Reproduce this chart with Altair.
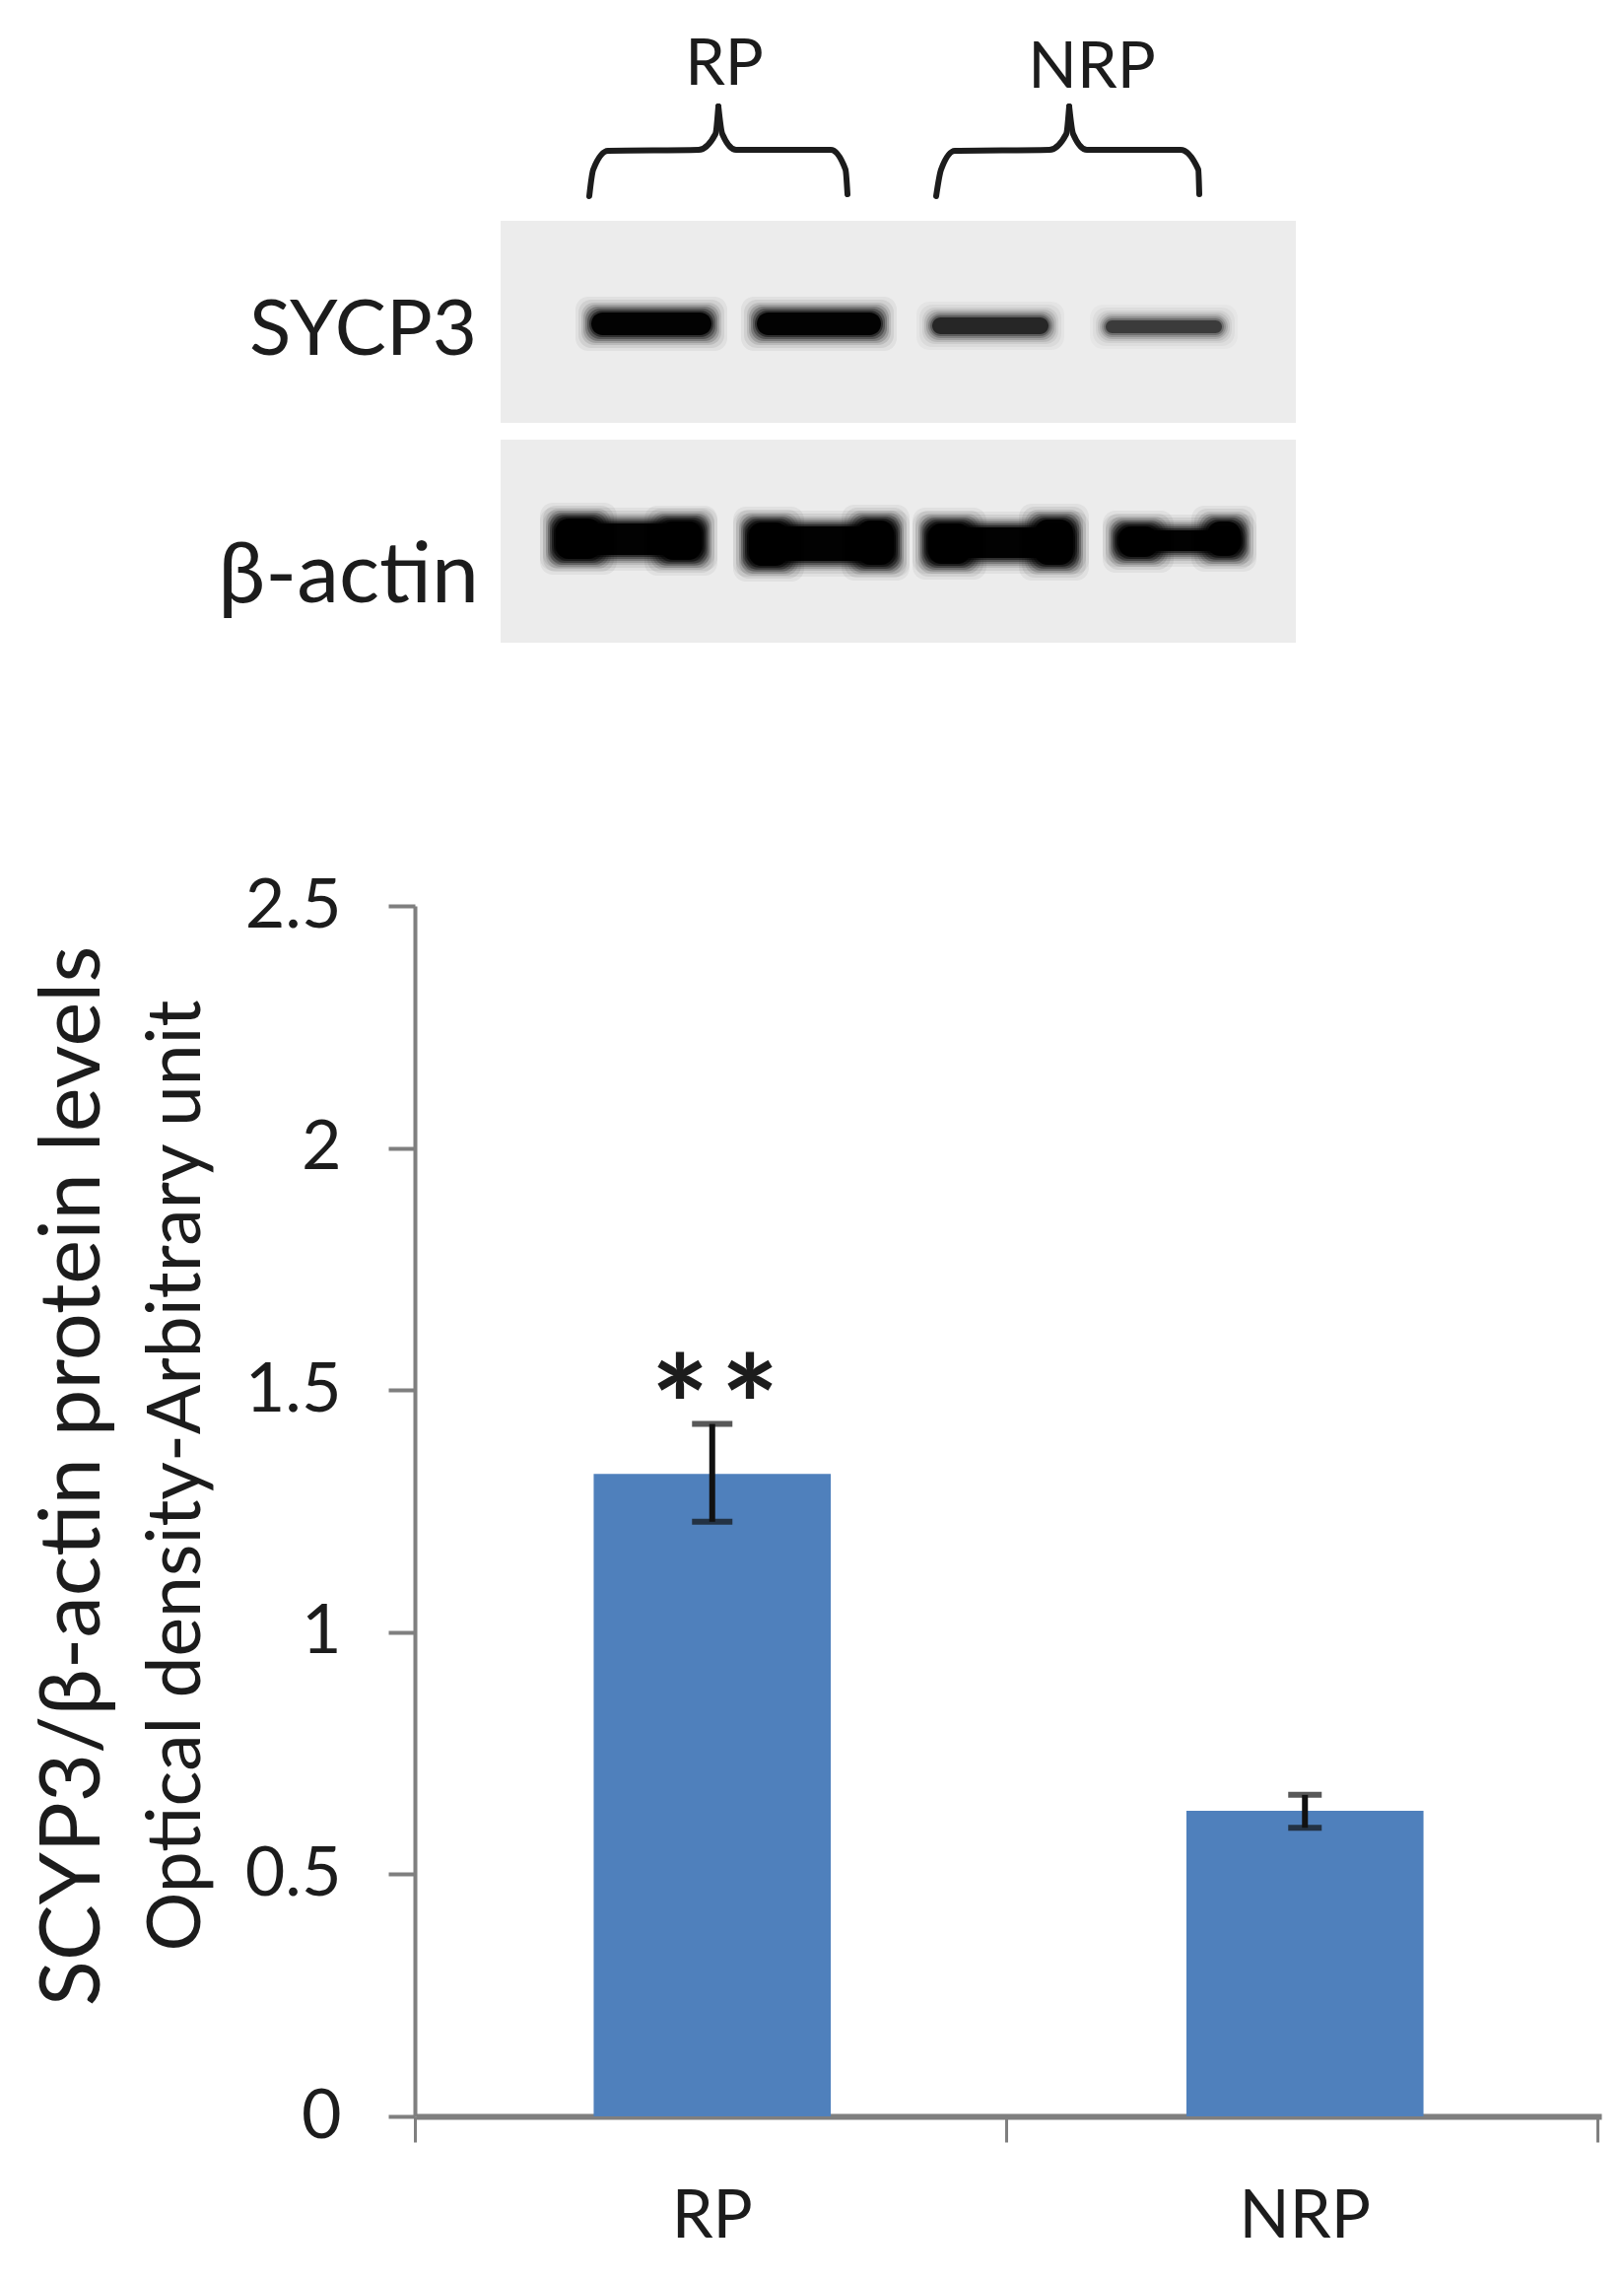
import altair as alt
import pandas as pd

# ---- bar chart values
groups = ["RP", "NRP"]
means = [1.327, 0.631]
err_low = [1.228, 0.596]
err_high = [1.43, 0.664]
cap_width = [41, 34]
y_ticks = [0, 0.5, 1, 1.5, 2, 2.5]
x_boundaries = [0, 1, 2]

# ---- blot values (page pixels of the gel picture)
panel_x0 = [508, 508]
panel_x1 = [1315, 1315]
panel_y0 = [224, 446]
panel_y1 = [429, 652]
band_x0 = [600, 768, 946, 1122, 564, 760, 942, 1135, 564, 670, 760, 870, 942, 1050, 1135, 1225]
band_x1 = [722, 894, 1064, 1240, 712, 907, 1089, 1259, 610, 712, 800, 907, 985, 1089, 1175, 1259]
band_y0 = [317, 317, 322, 325, 531, 534, 535, 538, 526, 529, 530, 528, 531, 527, 534, 529]
band_y1 = [340, 340, 339, 338, 563, 569, 566, 559, 567, 568, 574, 573, 572, 573, 565, 564]
band_strength = [1.0, 1.0, 0.62, 0.5, 1.0, 1.0, 1.0, 1.0, 1.0, 1.0, 1.0, 1.0, 1.0, 1.0, 1.0, 1.0]
halo_grow = [16, 13, 10, 8, 6, 4, 2, 0]
halo_alpha = [0.05, 0.07, 0.1, 0.15, 0.22, 0.3, 0.45, 0.95]

brace_x = [[598, 602, 617, 709, 726, 729], [729, 733, 747, 843, 858, 860],
           [950, 955, 969, 1065, 1082, 1085], [1085, 1089, 1103, 1198, 1216, 1217]]
brace_y = [[199, 172, 153, 152, 136, 108], [108, 136, 152, 152, 172, 197],
           [199, 172, 153, 152, 136, 108], [108, 136, 152, 152, 172, 197]]

# ---- text
lane_labels = ["RP", "NRP"]
lane_label_x = [735, 1108]
lane_label_y = [66, 69]
blot_label_a = ["SYCP3"]
blot_label_b = ["β-actin"]
blot_label_a_x = [484]
blot_label_b_x = [486]
blot_label_a_y = [337]
blot_label_b_y = [585]
y_title = "SCYP3/β-actin protein levels"
y_subtitle = "Optical density-Arbitrary unit"
subtitle_x = [180]
subtitle_y = [1497]
star_text = ["*", "*"]
star_x = [690, 761]
star_y = [1436, 1436]

FONT = "Lato"
INK = "#1c1c1c"
AXIS = "#7f7f7f"
PANEL = "#ececec"
BAR = "#4f80bc"

px_x = alt.Scale(domain=[8, 1640], range=[0, 1632], zero=False, nice=False)
px_y = alt.Scale(domain=[8, 2305], range=[0, 2297], zero=False, nice=False)
val_y = alt.Scale(domain=[0, 2.5], range=[2139, 911], zero=False, nice=False)
cat_x = alt.Scale(domain=groups, range=[414, 1617], paddingInner=0.6, paddingOuter=0.3)
edge_x = alt.Scale(domain=[0, 2], range=[413, 1613], zero=False, nice=False)


def X(f):
    return alt.X(f, type="quantitative", scale=px_x, axis=None)


def Y(f):
    return alt.Y(f, type="quantitative", scale=px_y, axis=None)


panels = pd.DataFrame({"x0": panel_x0, "x1": panel_x1, "y0": panel_y0, "y1": panel_y1})
panel_layer = alt.Chart(panels).mark_rect(color=PANEL).encode(
    x=X("x0"), x2="x1", y=Y("y0"), y2="y1")

rows = []
for i in range(len(band_x0)):
    for k, (g, a) in enumerate(zip(halo_grow, halo_alpha)):
        rows.append({"x0": band_x0[i] - g, "x1": band_x1[i] + g,
                     "y0": band_y0[i] - g, "y1": band_y1[i] + g,
                     "a": a * band_strength[i], "order": i * 10 + k})
band_layer = alt.Chart(pd.DataFrame(rows)).mark_rect(color="#000000", cornerRadius=13).encode(
    x=X("x0"), x2="x1", y=Y("y0"), y2="y1",
    opacity=alt.Opacity("a:Q", scale=None), order="order:Q")

brace_rows = []
for b, (xs, ys) in enumerate(zip(brace_x, brace_y)):
    for k, (px, py) in enumerate(zip(xs, ys)):
        brace_rows.append({"b": b, "k": k, "x": px, "y": py})
brace_layer = alt.Chart(pd.DataFrame(brace_rows)).mark_line(
    color=INK, strokeWidth=6, interpolate="monotone", strokeCap="round").encode(
    x=X("x"), y=Y("y"), detail="b:N", order="k:Q")


def text_layer(labels, xs, ys, size, align="center", angle=0, weight="normal"):
    df = pd.DataFrame({"t": labels, "x": xs, "y": ys})
    return alt.Chart(df).mark_text(font=FONT, fontSize=size, color=INK, align=align,
                                   baseline="middle", angle=angle, fontWeight=weight).encode(
        x=X("x"), y=Y("y"), text="t:N")


top_text = text_layer(lane_labels, lane_label_x, lane_label_y, 65)
side_text_a = text_layer(blot_label_a, blot_label_a_x, blot_label_a_y, 78, align="right")
side_text_b = text_layer(blot_label_b, blot_label_b_x, blot_label_b_y, 86, align="right")
sub_text = text_layer([y_subtitle], subtitle_x, subtitle_y, 75, angle=270)
stars = text_layer(star_text, star_x, star_y, 140, weight="bold")

table = pd.DataFrame({"group": groups, "mean": means, "low": err_low,
                      "high": err_high, "cap": cap_width})

bars = alt.Chart(table).mark_bar(color=BAR).encode(
    x=alt.X("group:N", sort=groups, scale=cat_x, title=None,
            axis=alt.Axis(orient="bottom", offset=-158, ticks=False, labelAngle=0,
                          domainColor=AXIS, domainWidth=6, labelFont=FONT, labelFontSize=67,
                          labelColor=INK, labelPadding=69)),
    y=alt.Y("mean:Q", scale=val_y,
            axis=alt.Axis(orient="left", offset=-413, values=y_ticks, grid=False,
                          title=y_title, titleFont=FONT, titleFontSize=85, titleFontWeight="normal",
                          titleColor=INK, titleX=-347, titleY=1489, titleAngle=270,
                          titleBaseline="middle", titleAlign="center",
                          labelExpr="'' + datum.value", labelFont=FONT, labelFontSize=70,
                          labelColor=INK, labelPadding=48, tickSize=27, tickWidth=4,
                          tickColor=AXIS, domainColor=AXIS, domainWidth=4)),
)

err_x = alt.X("group:N", sort=groups, scale=cat_x, axis=None)
err_rule = alt.Chart(table).mark_rule(color="#111111", strokeWidth=6).encode(
    x=err_x, y=alt.Y("low:Q", scale=val_y, axis=None), y2="high:Q")
cap_low = alt.Chart(table).mark_tick(color="#111111", thickness=6, orient="horizontal").encode(
    x=err_x, y=alt.Y("low:Q", scale=val_y, axis=None), size=alt.Size("cap:Q", scale=None))
cap_high = alt.Chart(table).mark_tick(color="#111111", thickness=6, orient="horizontal").encode(
    x=err_x, y=alt.Y("high:Q", scale=val_y, axis=None), size=alt.Size("cap:Q", scale=None))

edge_ticks = alt.Chart(pd.DataFrame({"v": x_boundaries})).mark_point(opacity=0).encode(
    x=alt.X("v:Q", scale=edge_x, title=None,
            axis=alt.Axis(orient="bottom", offset=-158, values=x_boundaries, labels=False,
                          domain=False, grid=False, tickSize=26, tickWidth=3, tickColor=AXIS)))

chart = alt.layer(
    panel_layer, band_layer, brace_layer, top_text, side_text_a, side_text_b, sub_text, stars,
    bars, err_rule, cap_low, cap_high, edge_ticks,
).resolve_scale(x="independent", y="independent").properties(
    width=1632, height=2297, padding=0, autosize=alt.AutoSizeParams(type="none"),
).configure_view(stroke=None)

chart.save("out.html", embed_options={"renderer": "svg", "actions": False})
